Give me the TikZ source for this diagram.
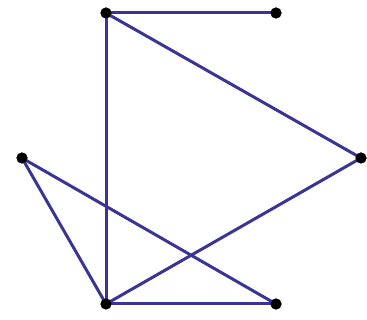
\documentclass[tikz,border=0pt]{standalone}
\definecolor{edgeblue}{RGB}{58,52,150}
\begin{document}
\begin{tikzpicture}[x=1pt,y=-1pt,
  dot/.style={circle,fill=black,inner sep=0pt,minimum size=11pt},
  edge/.style={draw=edgeblue,line width=3pt}]
\useasboundingbox (0,0) rectangle (367,320);
\node[dot] (a) at (106,13) {};
\node[dot] (b) at (276,13) {};
\node[dot] (c) at (361,158) {};
\node[dot] (d) at (22,158) {};
\node[dot] (e) at (106,304) {};
\node[dot] (f) at (276,304) {};
\draw[edge] (a.center) -- (b.center);
\draw[edge] (a.center) -- (c.center);
\draw[edge] (a.center) -- (e.center);
\draw[edge] (d.center) -- (e.center);
\draw[edge] (d.center) -- (f.center);
\draw[edge] (e.center) -- (f.center);
\draw[edge] (e.center) -- (c.center);
\foreach \n in {a,b,c,d,e,f} \fill (\n) circle (5.5pt);
\end{tikzpicture}
\end{document}
